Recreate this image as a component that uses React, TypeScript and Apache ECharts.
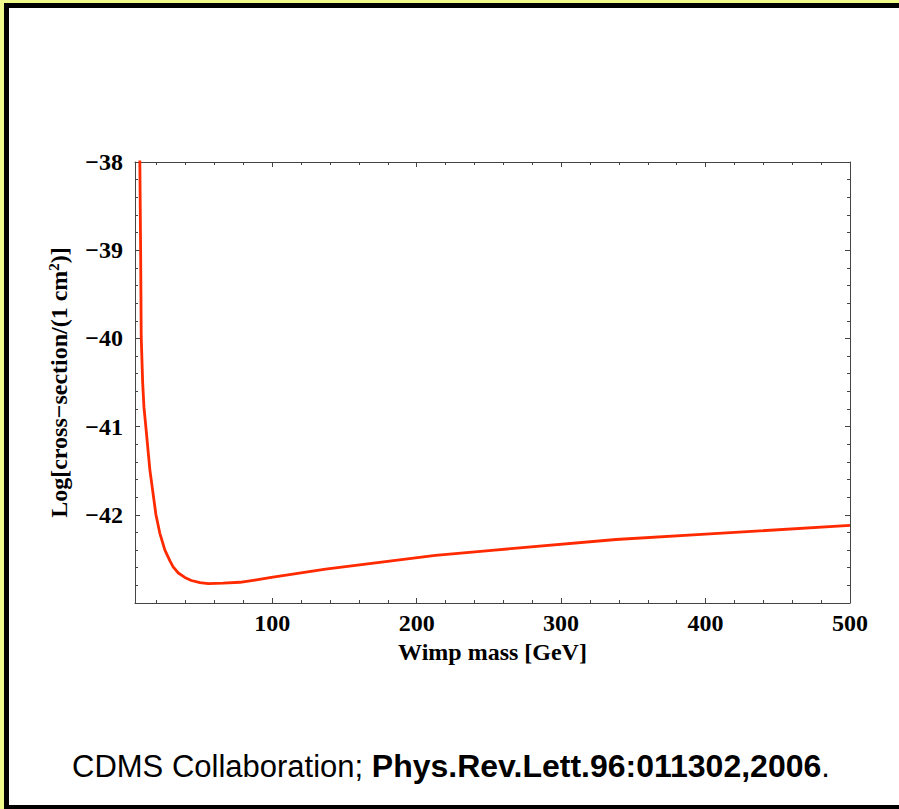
import React, { useEffect, useRef } from "react";
import * as echarts from "echarts";

// WIMP mass (GeV) and log10 cross-section (cm^2)
const massGeV = [8.3, 8.9, 9.3, 10.3, 11.2, 12.5, 15.3, 19.5, 22.2, 25.7, 29.1, 31.4, 35, 39.5, 44, 50, 55.7, 66, 77.6, 88, 99.4, 137, 213, 254, 338, 400, 500];
const logSigma = [-37.9, -39.0, -39.98, -40.5, -40.78, -41.0, -41.49, -42.0, -42.21, -42.4, -42.52, -42.59, -42.66, -42.71, -42.745, -42.77, -42.78, -42.775, -42.765, -42.74, -42.71, -42.615, -42.46, -42.4, -42.28, -42.22, -42.12];

const xMajorTicks = [100, 200, 300, 400, 500];
const xMinorTicks = [20, 40, 60, 80, 120, 140, 160, 180, 220, 240, 260, 280, 320, 340, 360, 380, 420, 440, 460, 480];
const yTickValues = [-43, -42, -41, -40, -39, -38];

const SERIF = "'Liberation Serif', 'Times New Roman', serif";
const SANS = "'Liberation Sans', Arial, sans-serif";
const AXIS_COLOR = "#444";

export default function App() {
  const ref = useRef<HTMLDivElement>(null);

  useEffect(() => {
    if (!ref.current) return;
    const chart = echarts.init(ref.current, undefined, { renderer: "svg" });
    const lineStyle = { color: AXIS_COLOR, width: 1 };
    const labelStyle = { fontFamily: SERIF, fontWeight: "bold" as const, fontSize: 24, color: "#000" };
    const xBase = { type: "value" as const, min: 5, max: 500, splitLine: { show: false } };
    const yBase = { type: "value" as const, min: yTickValues[0], max: yTickValues[yTickValues.length - 1], interval: 1, splitLine: { show: false } };

    chart.setOption({
      animation: false,
      backgroundColor: "transparent",
      grid: { left: 135, right: 49, top: 162, bottom: 206 },
      title: {
        text: "{n|CDMS Collaboration; }{b|Phys.Rev.Lett.96:011302,2006}{n|.}",
        left: 67,
        top: 745,
        textStyle: {
          rich: {
            n: { fontFamily: SANS, fontSize: 31, color: "#000", fontWeight: "normal" },
            b: { fontFamily: SANS, fontSize: 32, color: "#000", fontWeight: "bold" },
          },
        },
      },
      xAxis: [
        {
          ...xBase,
          position: "bottom",
          axisLine: { show: true, onZero: false, lineStyle },
          axisTick: { show: true, inside: true, length: 5, customValues: xMajorTicks, lineStyle },
          axisLabel: { ...labelStyle, customValues: xMajorTicks, margin: 8, formatter: (v: number) => String(v) },
          name: "Wimp mass [GeV]",
          nameLocation: "middle",
          nameGap: 36,
          nameTextStyle: { ...labelStyle },
        },
        {
          ...xBase,
          position: "bottom",
          axisLine: { show: false },
          axisTick: { show: true, inside: true, length: 3, customValues: xMinorTicks, lineStyle },
          axisLabel: { show: false },
        },
        {
          ...xBase,
          position: "top",
          axisLine: { show: true, onZero: false, lineStyle },
          axisTick: { show: true, inside: true, length: 5, customValues: xMajorTicks, lineStyle },
          axisLabel: { show: false },
        },
        {
          ...xBase,
          position: "top",
          axisLine: { show: false },
          axisTick: { show: true, inside: true, length: 3, customValues: xMinorTicks, lineStyle },
          axisLabel: { show: false },
        },
      ],
      yAxis: [
        {
          ...yBase,
          position: "left",
          axisLine: { show: true, onZero: false, lineStyle },
          axisTick: { show: true, inside: true, length: 5, lineStyle },
          minorTick: { show: true, splitNumber: 5, length: 3, lineStyle },
          axisLabel: {
            ...labelStyle,
            margin: 12,
            formatter: (v: number) => (v === yTickValues[0] ? "" : "\u2212" + Math.abs(v)),
          },
          name: "Log[cross\u2212section/(1 cm{sup|2})]",
          nameLocation: "middle",
          nameRotate: 90,
          nameGap: 64,
          nameTextStyle: {
            ...labelStyle,
            rich: {
              sup: { fontFamily: SERIF, fontWeight: "bold", fontSize: 15, color: "#000", verticalAlign: "top", padding: [0, 0, 10, 0] },
            },
          },
        },
        {
          ...yBase,
          position: "right",
          axisLine: { show: true, onZero: false, lineStyle },
          axisTick: { show: true, inside: true, length: 5, lineStyle },
          minorTick: { show: true, splitNumber: 5, length: 3, lineStyle },
          axisLabel: { show: false },
        },
      ],
      series: [
        {
          type: "line",
          xAxisIndex: 0,
          yAxisIndex: 0,
          data: massGeV.map((m, i) => [m, logSigma[i]]),
          showSymbol: false,
          smooth: false,
          clip: true,
          lineStyle: { color: "#ff2a00", width: 2.8, join: "round" },
        },
      ],
    });
    return () => chart.dispose();
  }, []);

  return (
    <div style={{ position: "fixed", left: 0, top: 0, width: 899, height: 809, background: "#f0f98c", overflow: "hidden" }}>
      <div style={{ position: "absolute", left: 4, top: 3, width: 900, height: 806, background: "#000" }} />
      <div style={{ position: "absolute", left: 9, top: 8, width: 900, height: 797, background: "#fff" }} />
      <div ref={ref} style={{ position: "absolute", left: 0, top: 0, width: 899, height: 809 }} />
    </div>
  );
}
